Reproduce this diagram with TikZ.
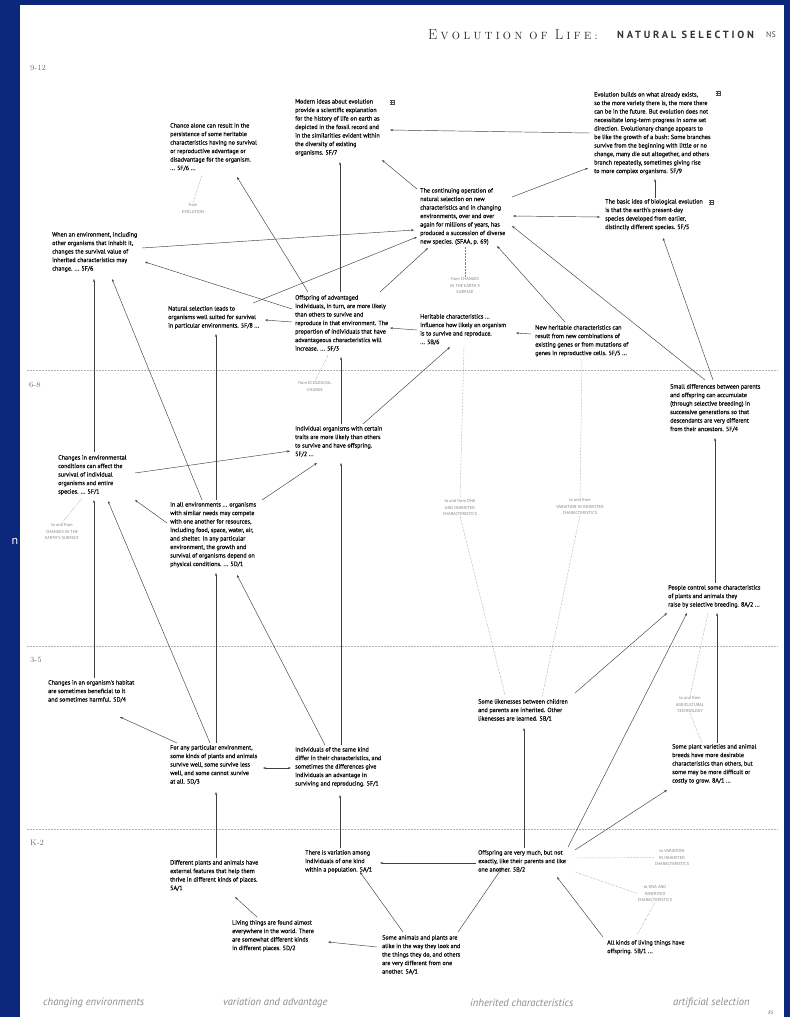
\documentclass[tikz,border=0pt]{standalone}
\usepackage{fontspec}
\newfontfamily\bodyfont[FakeBold=0.35]{PT Sans}
\newfontfamily\stfont{PT Sans}
\newfontfamily\hdrserif{Latin Modern Roman}
\newfontfamily\hdrsans[LetterSpace=27]{PT Sans}
\usetikzlibrary{arrows.meta,calc}
\definecolor{bgblue}{RGB}{12,40,125}
\definecolor{txt}{RGB}{10,10,10}
\definecolor{lbl}{RGB}{130,130,130}
\newcommand\lsp{\kern3.4pt}
\newcommand\scs{\fontsize{10.5}{10.5}\selectfont}
\begin{document}
\begin{tikzpicture}[x=1pt,y=-1pt,
  box/.style={anchor=north west,inner sep=0pt,align=left,font=\bodyfont\fontsize{6.1}{8.5}\selectfont,text=txt},
  tag/.style={anchor=north,inner sep=0pt,align=center,font=\stfont\fontsize{4.3}{6.8}\selectfont,text=lbl},
  arr/.style={draw=black!75,line width=0.45pt,-{Stealth[length=3pt,width=2.2pt]}},
  darr/.style={draw=black!75,line width=0.45pt,{Stealth[length=3pt,width=2.2pt]}-{Stealth[length=3pt,width=2.2pt]}},
  dotline/.style={draw=black!50,line width=0.45pt,densely dotted},
  gradeline/.style={draw=black!30,line width=0.6pt,dash pattern=on 2pt off 1pt},
  gradelbl/.style={anchor=west,inner sep=0pt,font=\fontsize{8}{8}\selectfont,text=black!55},
  strand/.style={anchor=west,inner sep=0pt,font=\stfont\itshape\fontsize{10.6}{10.6}\selectfont,text=black!45},
  histmark/.pic={\draw[line width=0.35pt,black!70] (0,0.5)--(5,0.5) (0,2.5)--(5,2.5) (0,4.5)--(5,4.5) (0.8,0)--(0.8,5) (4.2,0)--(4.2,5);}
]
\fill[bgblue] (0,0) rectangle (790,1017);
\fill[white] (20,5) rectangle (784,1017);
\useasboundingbox (0,0) rectangle (790,1017);
\node[inner sep=0pt,font=\stfont\fontsize{12}{12}\selectfont,text=white] (edge) at (15,541) {n};

% header
\node[anchor=west,inner sep=0pt,text=black!85] (hdr1) at (428,35) {\hdrserif\fontsize{14.5}{14.5}\selectfont E\lsp{\scs V\lsp O\lsp L\lsp U\lsp T\lsp I\lsp O\lsp N}\kern7pt{\scs O\lsp F}\kern7pt L\lsp{\scs I\lsp F\lsp E\lsp:}};
\node[anchor=west,inner sep=0pt,font=\hdrsans\bfseries\fontsize{10.4}{10.4}\selectfont,text=black!80] (hdr2) at (617,35) {NATURAL SELECTION};
\node[anchor=west,inner sep=0pt,font=\stfont\fontsize{8}{8}\selectfont,text=black!70] (hdr3) at (766,35) {NS};

% grade lines
\draw[gradeline] (27,370) -- (778,370);
\draw[gradeline] (27,646) -- (778,646);
\draw[gradeline] (27,829) -- (778,829);
\node[gradelbl] (g1) at (30,68) {9-12};
\node[gradelbl] (g2) at (29,385) {6-8};
\node[gradelbl] (g3) at (30,660) {3-5};
\node[gradelbl] (g4) at (30,843) {K-2};

% nodes
\node[box] (A) at (170,123) {Chance alone can result in the\\persistence of some heritable\\characteristics having no survival\\or reproductive advantage or\\disadvantage for the organism.\\... 5F/6 ...};
\node[box] (B) at (295,99) {Modern ideas about evolution\\provide a scientific explanation\\for the history of life on earth as\\depicted in the fossil record and\\in the similarities evident within\\the diversity of existing\\organisms. 5F/7};
\node[box] (C) at (594,92) {Evolution builds on what already exists,\\so the more variety there is, the more there\\can be in the future. But evolution does not\\necessitate long-term progress in some set\\direction. Evolutionary change appears to\\be like the growth of a bush: Some branches\\survive from the beginning with little or no\\change, many die out altogether, and others\\branch repeatedly, sometimes giving rise\\to more complex organisms. 5F/9};
\node[box] (D) at (420,188) {The continuing operation of\\natural selection on new\\characteristics and in changing\\environments, over and over\\again for millions of years, has\\produced a succession of diverse\\new species. (SFAA, p. 69)};
\node[box] (E) at (605,199) {The basic idea of biological evolution\\is that the earth's present-day\\species developed from earlier,\\distinctly different species. 5F/5};
\node[box] (F) at (52,232) {When an environment, including\\other organisms that inhabit it,\\changes the survival value of\\inherited characteristics may\\change. ... 5F/6};
\node[box] (G) at (168,306) {Natural selection leads to\\organisms well suited for survival\\in particular environments. 5F/8 ...};
\node[box] (H) at (295,295) {Offspring of advantaged\\individuals, in turn, are more likely\\than others to survive and\\reproduce in that environment. The\\proportion of individuals that have\\advantageous characteristics will\\increase. ... 5F/3};
\node[box] (I) at (420,314) {Heritable characteristics ...\\influence how likely an organism\\is to survive and reproduce.\\... 5B/6};
\node[box] (J) at (535,325) {New heritable characteristics can\\result from new combinations of\\existing genes or from mutations of\\genes in reproductive cells. 5F/5 ...};
\node[box] (K) at (295,426) {Individual organisms with certain\\traits are more likely than others\\to survive and have offspring.\\5F/2 ...};
\node[box] (L) at (58,455) {Changes in environmental\\conditions can affect the\\survival of individual\\organisms and entire\\species. ... 5F/1};
\node[box] (M) at (170,502) {In all environments ... organisms\\with similar needs may compete\\with one another for resources,\\including food, space, water, air,\\and shelter. In any particular\\environment, the growth and\\survival of organisms depend on\\physical conditions. ... 5D/1};
\node[box] (N) at (668,585) {People control some characteristics\\of plants and animals they\\raise by selective breeding. 8A/2 ...};
\node[box] (O) at (670,384) {Small differences between parents\\and offspring can accumulate\\(through selective breeding) in\\successive generations so that\\descendants are very different\\from their ancestors. 5F/4};
\node[box] (P) at (48,680) {Changes in an organism's habitat\\are sometimes beneficial to it\\and sometimes harmful. 5D/4};
\node[box] (Q) at (170,745) {For any particular environment,\\some kinds of plants and animals\\survive well, some survive less\\well, and some cannot survive\\at all. 5D/3};
\node[box] (R) at (295,747) {Individuals of the same kind\\differ in their characteristics, and\\sometimes the differences give\\individuals an advantage in\\surviving and reproducing. 5F/1};
\node[box] (S) at (478,699) {Some likenesses between children\\and parents are inherited. Other\\likenesses are learned. 5B/1};
\node[box] (T) at (672,744) {Some plant varieties and animal\\breeds have more desirable\\characteristics than others, but\\some may be more difficult or\\costly to grow. 8A/1 ...};
\node[box] (U) at (170,860) {Different plants and animals have\\external features that help them\\thrive in different kinds of places.\\5A/1};
\node[box] (V) at (305,850) {There is variation among\\individuals of one kind\\within a population. 5A/1};
\node[box] (W) at (478,850) {Offspring are very much, but not\\exactly, like their parents and like\\one another. 5B/2};
\node[box] (X) at (607,940) {All kinds of living things have\\offspring. 5B/1 ...};
\node[box] (Y) at (232,920) {Living things are found almost\\everywhere in the world. There\\are somewhat different kinds\\in different places. 5D/2};
\node[box] (Z) at (382,935) {Some animals and plants are\\alike in the way they look and\\the things they do, and others\\are very different from one\\another. 5A/1};

\pic (mB) at (390,100) {histmark};
\pic (mC) at (716,91) {histmark};
\pic (mE) at (709,200) {histmark};

% tags
\node[tag] (L1) at (193,203) {from\\EVOLUTION};
\node[tag] (L2) at (465,277) {from CHANGES\\IN THE EARTH'S\\SURFACE};
\node[tag] (L3) at (315,381) {from ECOLOGICAL\\CHANGE};
\node[tag] (L4) at (62,523) {to and from\\CHANGES IN THE\\EARTH'S SURFACE};
\node[tag] (L5) at (460,499) {to and from DNA\\AND INHERITED\\CHARACTERISTICS};
\node[tag] (L6) at (580,498) {to and from\\VARIATION IN INHERITED\\CHARACTERISTICS};
\node[tag] (L7) at (690,696) {to and from\\AGRICULTURAL\\TECHNOLOGY};
\node[tag] (L8) at (672,849) {to VARIATION\\IN INHERITED\\CHARACTERISTICS};
\node[tag] (L9) at (655,885) {to DNA AND\\INHERITED\\CHARACTERISTICS};

% arrows
\draw[arr] ($(D.north west)+(-3,1)$) -- ($(B.north west)+(87,61)$);
\draw[arr] ($(C.north west)+(-4,41)$) -- ($(B.north west)+(95,31)$);
\draw[arr] ($(D.north west)+(92,9)$) -- ($(C.north west)+(-6,76)$);
\draw[arr] ($(E.north west)+(50,-1)$) -- ($(C.north west)+(61,87)$);
\draw[darr] ($(D.north west)+(93,28)$) -- ($(E.north west)+(-5,18)$);
\draw[arr] ($(O.north west)+(35,-4)$) -- ($(D.north west)+(92,38)$);
\draw[arr] ($(O.north west)+(43,-4)$) -- ($(E.north west)+(58,39)$);
\draw[arr] ($(J.north west)+(30,-3)$) -- ($(D.north west)+(77,58)$);
\draw[arr] ($(H.north west)+(85,-3)$) -- ($(D.north west)+(8,60)$);
\draw[arr] ($(H.north west)+(45,-3)$) -- ($(B.north west)+(45,63)$);
\draw[arr] ($(F.north west)+(90,16)$) -- ($(D.north west)+(-6,42)$);
\draw[arr] ($(G.north west)+(85,-3)$) -- ($(D.north west)+(-3,49)$);
\draw[arr] ($(H.north west)+(-3,14)$) -- ($(F.north west)+(93,30)$);
\draw[arr] ($(H.north west)+(-3,27)$) -- ($(G.north west)+(97,14)$);
\draw[arr] ($(H.north west)+(13,-3)$) -- ($(A.north west)+(67,54)$);
\draw[arr] ($(I.north west)+(-3,16)$) -- ($(H.north west)+(95,33)$);
\draw[arr] ($(J.north west)+(-4,9)$) -- ($(I.north west)+(96,19)$);
\draw[arr] ($(K.north west)+(46,-2)$) -- ($(H.north west)+(46,62)$);
\draw[arr] ($(K.north west)+(68,-2)$) -- ($(I.north west)+(30,33)$);
\draw[arr] ($(L.north west)+(77,18)$) -- ($(K.north west)+(-5,25)$);
\draw[arr] ($(M.north west)+(92,-2)$) -- ($(K.north west)+(22,37)$);
\draw[arr] ($(L.north west)+(36,-3)$) -- ($(F.north west)+(42,47)$);
\draw[arr] ($(M.north west)+(32,-2)$) -- ($(F.north west)+(60,47)$);
\draw[arr] ($(M.north west)+(46,-2)$) -- ($(G.north west)+(48,28)$);
\draw[arr] ($(M.north west)+(-3,21)$) -- ($(L.north west)+(77,45)$);
\draw[arr] ($(P.north west)+(46,-2)$) -- ($(L.north west)+(36,45)$);
\draw[arr] ($(Q.north west)+(40,-2)$) -- ($(L.north west)+(50,46)$);
\draw[arr] ($(Q.north west)+(46,-2)$) -- ($(M.north west)+(46,71)$);
\draw[arr] ($(Q.north west)+(7,-2)$) -- ($(P.north west)+(72,37)$);
\draw[arr] ($(R.north west)+(30,-2)$) -- ($(M.north west)+(67,73)$);
\draw[arr] ($(R.north west)+(46,-2)$) -- ($(K.north west)+(46,37)$);
\draw[darr] ($(Q.north west)+(93,23)$) -- ($(R.north west)+(-4,21)$);
\draw[arr] ($(U.north west)+(46,-2)$) -- ($(Q.north west)+(46,47)$);
\draw[arr] ($(Y.north west)+(25,-3)$) -- ($(U.north west)+(65,37)$);
\draw[arr] ($(Z.north west)+(-5,12)$) -- ($(Y.north west)+(96,22)$);
\draw[arr] ($(Z.north west)+(21,-3)$) -- ($(V.north west)+(55,22)$);
\draw[arr] ($(Z.north west)+(76,-3)$) -- ($(W.north west)+(24,18)$);
\draw[arr] ($(W.north west)+(-2,13)$) -- ($(V.north west)+(75,13)$);
\draw[arr] ($(V.north west)+(35,-2)$) -- ($(R.north west)+(45,48)$);
\draw[arr] ($(W.north west)+(46,-2)$) -- ($(S.north west)+(46,29)$);
\draw[arr] ($(S.north west)+(97,-6)$) -- ($(N.north west)+(-1,28)$);
\draw[arr] ($(W.north west)+(90,-3)$) -- ($(N.north west)+(19,28)$);
\draw[arr] ($(W.north west)+(97,0)$) -- ($(T.north west)+(-5,46)$);
\draw[arr] ($(T.north west)+(45,-1)$) -- ($(N.north west)+(49,28)$);
\draw[arr] ($(N.north west)+(47,-2)$) -- ($(O.north west)+(45,54)$);
\draw[arr] ($(X.north west)+(-4,-3)$) -- ($(W.north west)+(79,27)$);

% dotted links
\draw[dotline] ($(A.north west)+(32,52)$) -- (L1.north);
\draw[dotline] ($(H.north west)+(33,60)$) -- (L3.north);
\draw[dotline] ($(D.north west)+(45,59)$) -- (L2.north);
\draw[dotline] ($(I.north west)+(44,33)$) -- (L5.north);
\draw[dotline] ($(J.north west)+(47,35)$) -- (L6.north);
\draw[dotline] ($(L.north west)+(24,43)$) -- (L4.north);
\draw[dotline] ($(S.north west)+(27,-4)$) -- (L5.south);
\draw[dotline] ($(S.north west)+(64,-2)$) -- (L6.south);
\draw[dotline] ($(N.north west)+(40,28)$) -- (L7.north);
\draw[dotline] (L7.south) -- ($(T.north west)+(30,-1)$);
\draw[dotline] ($(W.north west)+(97,8)$) -- (L8.west);
\draw[dotline] ($(W.north west)+(97,22)$) -- (L9.west);
\draw[dotline] ($(X.north west)+(30,-5)$) -- (L9.south);

% strand labels
\node[strand] (s1) at (43,1003) {changing environments};
\node[strand] (s2) at (223,1003) {variation and advantage};
\node[strand] (s3) at (470,1003) {inherited characteristics};
\node[strand] (s4) at (673,1003) {artificial selection};
\node[anchor=west,inner sep=0pt,font=\stfont\itshape\fontsize{5}{5}\selectfont,text=black!60] (pg) at (768,1013) {85};
\end{tikzpicture}
\end{document}
